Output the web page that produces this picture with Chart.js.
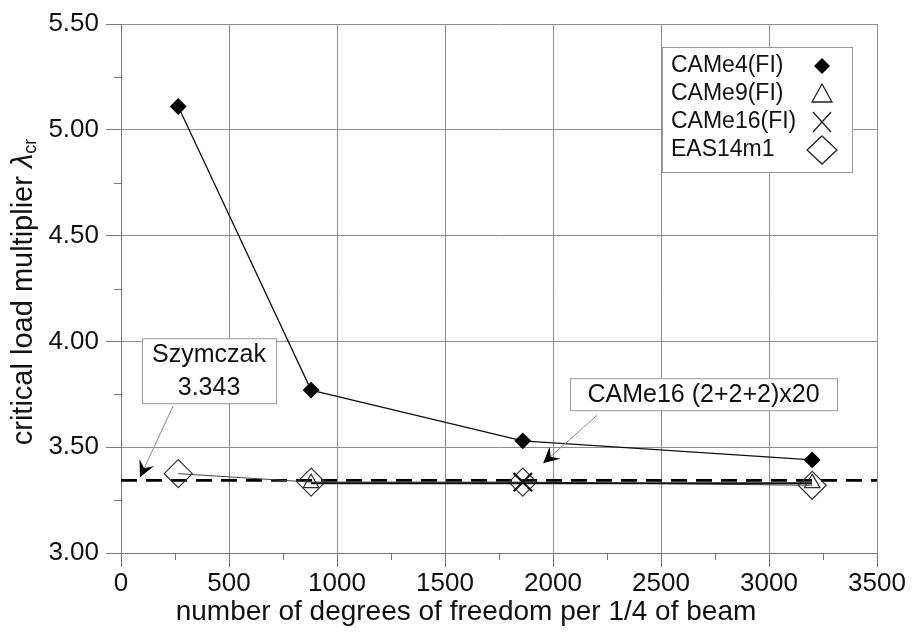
<!DOCTYPE html>
<html>
<head>
<meta charset="utf-8">
<script src="https://cdn.jsdelivr.net/npm/chart.js@4/dist/chart.umd.min.js"></script>
<style>
  html, body { margin: 0; padding: 0; background: #fff; }
  #wrap { width: 914px; height: 637px; }
</style>
</head>
<body>
<div id="wrap"><canvas id="chart" width="914" height="637"></canvas></div>
<script>
// degrees of freedom per 1/4 of beam
const dofCAMe4 = [265, 880, 1860, 3200];
const lambdaCAMe4 = [5.11, 3.77, 3.53, 3.44];

const dofCAMe9 = [880, 3200];
const lambdaCAMe9 = [3.33, 3.33];

const dofCAMe16 = [1860];
const lambdaCAMe16 = [3.335];

const dofEAS = [265, 880, 1860, 3200];
const lambdaEAS = [3.375, 3.335, 3.335, 3.32];

const szymczakX = [0, 3500];
const szymczakValue = 3.343;

const xTickStep = 250;
const yTickStep = 0.25;

const seriesNames = ['CAMe4(FI)', 'CAMe9(FI)', 'CAMe16(FI)', 'EAS14m1'];
const xTitle = 'number of degrees of freedom per 1/4 of beam';

const FONT = '"Liberation Sans", Arial, sans-serif';

function toPoints(xs, ys) {
  return xs.map((x, i) => ({ x: x, y: ys[i] }));
}

function isMajorX(v) {
  return Math.abs(v % 500) < 1e-6;
}

function isMajorY(v) {
  return Math.abs((v * 100) % 50) < 1e-6;
}

// marker drawing used for the legend
function drawMarker(ctx, style, x, y) {
  ctx.save();
  ctx.strokeStyle = '#222';
  ctx.fillStyle = '#000';
  if (style === 'fdiamond') {
    ctx.beginPath();
    ctx.moveTo(x, y - 8); ctx.lineTo(x + 8, y); ctx.lineTo(x, y + 8); ctx.lineTo(x - 8, y);
    ctx.closePath(); ctx.fill();
  } else if (style === 'triangle') {
    ctx.lineWidth = 1.3;
    ctx.beginPath();
    ctx.moveTo(x, y - 10); ctx.lineTo(x + 10, y + 8); ctx.lineTo(x - 10, y + 8);
    ctx.closePath(); ctx.stroke();
  } else if (style === 'cross') {
    ctx.lineWidth = 1.3;
    ctx.beginPath();
    ctx.moveTo(x - 9, y - 10); ctx.lineTo(x + 9, y + 10);
    ctx.moveTo(x + 9, y - 10); ctx.lineTo(x - 9, y + 10);
    ctx.stroke();
  } else if (style === 'odiamond') {
    ctx.lineWidth = 1.3;
    ctx.beginPath();
    ctx.moveTo(x, y - 14); ctx.lineTo(x + 15, y); ctx.lineTo(x, y + 14); ctx.lineTo(x - 15, y);
    ctx.closePath(); ctx.stroke();
  }
  ctx.restore();
}

function drawArrow(ctx, x1, y1, x2, y2) {
  const dx = x2 - x1, dy = y2 - y1;
  const len = Math.hypot(dx, dy);
  const ux = dx / len, uy = dy / len;
  const nx = -uy, ny = ux;
  ctx.save();
  ctx.strokeStyle = '#8a8a8a';
  ctx.lineWidth = 1;
  ctx.beginPath();
  ctx.moveTo(x1, y1);
  ctx.lineTo(x2 - ux * 6, y2 - uy * 6);
  ctx.stroke();
  ctx.fillStyle = '#000';
  ctx.beginPath();
  ctx.moveTo(x2, y2);
  ctx.lineTo(x2 - ux * 16 + nx * 8, y2 - uy * 16 + ny * 8);
  ctx.lineTo(x2 - ux * 10, y2 - uy * 10);
  ctx.lineTo(x2 - ux * 16 - nx * 8, y2 - uy * 16 - ny * 8);
  ctx.closePath();
  ctx.fill();
  ctx.restore();
}

function drawLabelBox(ctx, xs, ys, left, right, top, bottom, lines) {
  const l = xs.getPixelForValue(left), r = xs.getPixelForValue(right);
  const t = ys.getPixelForValue(top), b = ys.getPixelForValue(bottom);
  ctx.save();
  ctx.fillStyle = '#fff';
  ctx.fillRect(l, t, r - l, b - t);
  ctx.strokeStyle = '#9a9a9a';
  ctx.lineWidth = 1;
  ctx.strokeRect(l + 0.5, t + 0.5, r - l, b - t);
  ctx.fillStyle = '#111';
  ctx.font = '25px ' + FONT;
  ctx.textAlign = 'center';
  ctx.textBaseline = 'middle';
  const h = (b - t) / lines.length;
  lines.forEach((s, i) => ctx.fillText(s, (l + r) / 2, t + h * (i + 0.5) + 1));
  ctx.restore();
}

const extrasPlugin = {
  id: 'extras',
  beforeDatasetsDraw(chart) {
    // minor tick marks outside the axes
    const ctx = chart.ctx;
    const xs = chart.scales.x, ys = chart.scales.y;
    ctx.save();
    ctx.strokeStyle = '#777';
    ctx.lineWidth = 1;
    ctx.beginPath();
    for (let v = 0; v <= 3500; v += xTickStep) {
      if (isMajorX(v)) continue;
      const px = Math.round(xs.getPixelForValue(v)) + 0.5;
      ctx.moveTo(px, ys.bottom);
      ctx.lineTo(px, ys.bottom + 7);
    }
    for (let v = 3; v <= 5.5; v += yTickStep) {
      if (isMajorY(v)) continue;
      const py = Math.round(ys.getPixelForValue(v)) + 0.5;
      ctx.moveTo(xs.left - 7, py);
      ctx.lineTo(xs.left, py);
    }
    ctx.stroke();
    ctx.restore();
  },
  afterDraw(chart) {
    const ctx = chart.ctx;
    const xs = chart.scales.x, ys = chart.scales.y;

    // x axis title
    ctx.save();
    ctx.fillStyle = '#111';
    ctx.font = '28px ' + FONT;
    ctx.textAlign = 'center';
    ctx.textBaseline = 'middle';
    ctx.fillText(xTitle, 466, 612);
    ctx.restore();

    // y axis title with subscript
    ctx.save();
    ctx.translate(24, 292);
    ctx.rotate(-Math.PI / 2);
    ctx.fillStyle = '#111';
    ctx.textBaseline = 'middle';
    const main = 'critical load multiplier ';
    ctx.font = '29px ' + FONT;
    const wMain = ctx.measureText(main).width;
    ctx.font = 'italic 29px ' + FONT;
    const wLam = ctx.measureText('\u03bb').width;
    ctx.font = '18px ' + FONT;
    const wSub = ctx.measureText('cr').width;
    const x0 = -(wMain + wLam + wSub) / 2;
    ctx.textAlign = 'left';
    ctx.font = '29px ' + FONT;
    ctx.fillText(main, x0, 0);
    ctx.font = 'italic 29px ' + FONT;
    ctx.fillText('\u03bb', x0 + wMain, 0);
    ctx.font = '18px ' + FONT;
    ctx.fillText('cr', x0 + wMain + wLam, 7);
    ctx.restore();

    // annotations
    drawArrow(ctx, xs.getPixelForValue(241), ys.getPixelForValue(3.694),
      xs.getPixelForValue(88), ys.getPixelForValue(szymczakValue + 0.015));
    drawLabelBox(ctx, xs, ys, 97, 718, 4.015, 3.708, ['Szymczak', '3.343']);
    drawArrow(ctx, xs.getPixelForValue(2204), ys.getPixelForValue(3.651),
      xs.getPixelForValue(1954), ys.getPixelForValue(3.424));
    drawLabelBox(ctx, xs, ys, 2079, 3315, 3.826, 3.675, ['CAMe16 (2+2+2)x20']);

    // legend (text left, marker right)
    const lx = 662, ly = 47, lw = 190, lh = 125;
    ctx.save();
    ctx.fillStyle = '#fff';
    ctx.fillRect(lx, ly, lw, lh);
    ctx.strokeStyle = '#9a9a9a';
    ctx.lineWidth = 1;
    ctx.strokeRect(lx + 0.5, ly + 0.5, lw, lh);
    ctx.fillStyle = '#111';
    ctx.font = '23px ' + FONT;
    ctx.textAlign = 'left';
    ctx.textBaseline = 'middle';
    const styles = ['fdiamond', 'triangle', 'cross', 'odiamond'];
    seriesNames.forEach((name, i) => {
      const cy = 66 + i * 28;
      ctx.fillText(name, 671, cy);
      drawMarker(ctx, styles[i], 822, cy);
    });
    ctx.restore();
  }
};

const config = {
  type: 'scatter',
  data: {
    datasets: [
      {
        label: seriesNames[0],
        data: toPoints(dofCAMe4, lambdaCAMe4),
        showLine: true,
        borderColor: '#111',
        borderWidth: 1.3,
        pointStyle: 'rectRot',
        pointRadius: 7.5,
        pointBackgroundColor: '#000',
        pointBorderColor: '#000',
        order: 1,
      },
      {
        label: seriesNames[1],
        data: toPoints(dofCAMe9, lambdaCAMe9),
        showLine: true,
        borderColor: '#111',
        borderWidth: 2,
        pointStyle: 'triangle',
        pointRadius: 9,
        pointBackgroundColor: 'rgba(0,0,0,0)',
        pointBorderColor: '#333',
        pointBorderWidth: 1.2,
        order: 3,
      },
      {
        label: seriesNames[2],
        data: toPoints(dofCAMe16, lambdaCAMe16),
        showLine: false,
        pointStyle: 'crossRot',
        pointRadius: 13,
        pointBorderColor: '#111',
        pointBorderWidth: 2.2,
        order: 2,
      },
      {
        label: seriesNames[3],
        data: toPoints(dofEAS, lambdaEAS),
        showLine: true,
        borderColor: '#444',
        borderWidth: 1,
        pointStyle: 'rectRot',
        pointRadius: 14,
        pointBackgroundColor: 'rgba(0,0,0,0)',
        pointBorderColor: '#333',
        pointBorderWidth: 1.2,
        order: 4,
      },
      {
        label: 'Szymczak',
        data: toPoints(szymczakX, szymczakX.map(() => szymczakValue)),
        showLine: true,
        borderColor: '#000',
        borderWidth: 2.8,
        borderDash: [16, 9],
        pointRadius: 0,
        order: 5,
      },
    ],
  },
  options: {
    responsive: false,
    animation: false,
    layout: { padding: { left: 0, right: 37, top: 24, bottom: 0 } },
    plugins: {
      legend: { display: false },
      tooltip: { enabled: false },
    },
    scales: {
      x: {
        type: 'linear',
        min: 0,
        max: 3500,
        afterFit(scale) { scale.height = 84; },
        border: { color: '#777', width: 1 },
        grid: {
          color: (c) => (isMajorX(c.tick.value) ? '#8c8c8c' : 'rgba(0,0,0,0)'),
          tickColor: (c) => (isMajorX(c.tick.value) ? '#777' : 'rgba(0,0,0,0)'),
          tickLength: 14,
          lineWidth: 1,
        },
        ticks: {
          stepSize: xTickStep,
          autoSkip: false,
          maxRotation: 0,
          padding: 1,
          color: '#111',
          font: { family: FONT, size: 26 },
          callback: (v) => (isMajorX(v) ? String(v) : ''),
        },
      },
      y: {
        type: 'linear',
        min: 3,
        max: 5.5,
        afterFit(scale) { scale.width = 121; },
        border: { color: '#777', width: 1 },
        grid: {
          color: (c) => (isMajorY(c.tick.value) ? '#8c8c8c' : 'rgba(0,0,0,0)'),
          tickColor: (c) => (isMajorY(c.tick.value) ? '#777' : 'rgba(0,0,0,0)'),
          tickLength: 15,
          lineWidth: 1,
        },
        ticks: {
          stepSize: yTickStep,
          autoSkip: false,
          padding: 7,
          color: '#111',
          font: { family: FONT, size: 26 },
          callback: (v) => (isMajorY(v) ? v.toFixed(2) : ''),
        },
      },
    },
  },
  plugins: [extrasPlugin],
};

new Chart(document.getElementById('chart'), config);
</script>
</body>
</html>
